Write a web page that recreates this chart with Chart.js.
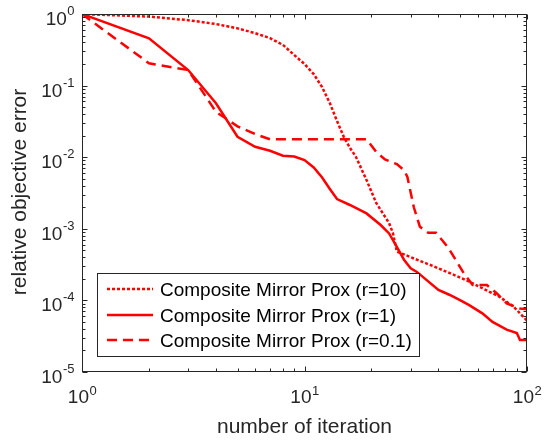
<!DOCTYPE html>
<html>
<head>
<meta charset="utf-8">
<script src="https://cdn.jsdelivr.net/npm/chart.js@4.4.1/dist/chart.umd.min.js"></script>
<style>
  body { margin: 0; background: #fff; }
  #wrap { width: 546px; height: 442px; }
</style>
</head>
<body>
<div id="wrap"><canvas id="myChart" width="546" height="442"></canvas></div>
<script>
// values (iteration -> relative objective error)
const itR10  = [1,2,3,4,5,6,7,8,9,10,11,12,13,14,15,16,17,19,21,24,25,26,28,32,38,45,53,63,75,87,100];
const errR10 = [1,0.92,0.82,0.725,0.63,0.54,0.46,0.37,0.267,0.2,0.145,0.095,0.057,0.032,0.0194,0.0135,0.0102,0.0048,0.0023,0.0012,0.00086,0.00048,0.00044,0.00037,0.0003,0.00024,0.000193,0.000148,0.000113,0.000082,0.000052];

const itR1  = [1,2,3,4,5,6,7,8,9,10,11,12,13,14,16,19,22,24,26,28,30,32,40,45,50,55,63,70,81,90,93,100];
const errR1 = [1,0.457,0.165,0.0566,0.0193,0.014,0.0123,0.0105,0.0102,0.0091,0.0072,0.0052,0.0036,0.0026,0.00215,0.00164,0.00113,0.00086,0.00056,0.00037,0.00028,0.00025,0.00014,0.000119,0.000101,0.000086,0.000066,0.00005,0.000039,0.000035,0.000028,0.000028];

const itR01  = [1,2,3,4,5,6,7,19,21,23,26,28,29,31,33,36,39,44,52,57,66,73,81,93,100];
const errR01 = [1,0.205,0.165,0.043,0.027,0.021,0.0178,0.0178,0.0119,0.0093,0.008,0.0066,0.0053,0.002,0.00107,0.00088,0.00088,0.00056,0.00024,0.000164,0.000164,0.000126,0.000091,0.000077,0.000075];

const labels = ["Composite Mirror Prox (r=10)", "Composite Mirror Prox (r=1)", "Composite Mirror Prox (r=0.1)"];
const xTicks = [0, 1, 2];            // exponents of 10
const yTicks = [0, -1, -2, -3, -4, -5];

const FONT = '"Liberation Sans", Arial, sans-serif';
const AX = '#262626';

function pts(xs, ys) { return xs.map((v, i) => ({x: v, y: ys[i]})); }

// draws "10" with a superscript exponent
function powLabel(ctx, e, x, y, align) {
  const ex = String(e);
  ctx.font = '19px ' + FONT;
  const wb = ctx.measureText('10').width;
  ctx.font = '13px ' + FONT;
  const we = ctx.measureText(ex).width;
  let left;
  if (align === 'center') left = x - (wb + we) / 2;
  else left = x - wb - we;
  ctx.textAlign = 'left';
  ctx.textBaseline = 'alphabetic';
  ctx.fillStyle = AX;
  ctx.font = '19px ' + FONT;
  ctx.fillText('10', left, y);
  ctx.font = '13px ' + FONT;
  ctx.fillText(ex, left + wb + 0.5, y - (align === 'center' ? 8 : 10));
}

const matlabAxes = {
  id: 'matlabAxes',
  afterDatasetsDraw(chart) {
    const ctx = chart.ctx;
    const a = chart.chartArea;
    const sx = chart.scales.x, sy = chart.scales.y;
    ctx.save();
    ctx.strokeStyle = AX;
    ctx.lineWidth = 1;
    const L = Math.round(a.left) + 0.5, R = Math.round(a.right) - 0.5;
    const T = Math.round(a.top) + 0.5, B = Math.round(a.bottom) - 0.5;
    ctx.strokeRect(L, T, R - L, B - T);

    ctx.beginPath();
    // x ticks
    xTicks.forEach(e => {
      const p = Math.round(sx.getPixelForValue(Math.pow(10, e))) + 0.5;
      ctx.moveTo(p, B); ctx.lineTo(p, B - 5);
      ctx.moveTo(p, T); ctx.lineTo(p, T + 5);
      if (e < 2) for (let m = 2; m <= 9; m++) {
        const q = Math.round(sx.getPixelForValue(m * Math.pow(10, e))) + 0.5;
        ctx.moveTo(q, B); ctx.lineTo(q, B - 3);
        ctx.moveTo(q, T); ctx.lineTo(q, T + 3);
      }
    });
    // y ticks
    yTicks.forEach(e => {
      const p = Math.round(sy.getPixelForValue(Math.pow(10, e))) + 0.5;
      ctx.moveTo(L, p); ctx.lineTo(L + 5, p);
      ctx.moveTo(R, p); ctx.lineTo(R - 5, p);
      if (e > -5) for (let m = 2; m <= 9; m++) {
        const q = Math.round(sy.getPixelForValue(m * Math.pow(10, e - 1))) + 0.5;
        ctx.moveTo(L, q); ctx.lineTo(L + 3, q);
        ctx.moveTo(R, q); ctx.lineTo(R - 3, q);
      }
    });
    ctx.stroke();

    // tick labels
    xTicks.forEach(e => powLabel(ctx, e, sx.getPixelForValue(Math.pow(10, e)), a.bottom + 31, 'center'));
    yTicks.forEach(e => powLabel(ctx, e, a.left - 8, sy.getPixelForValue(Math.pow(10, e)) + 11, 'right'));

    // axis titles
    ctx.fillStyle = AX;
    ctx.font = '21px ' + FONT;
    ctx.textAlign = 'center';
    ctx.textBaseline = 'alphabetic';
    ctx.fillText('number of iteration', (a.left + a.right) / 2, 433);
    ctx.save();
    ctx.translate(26, (a.top + a.bottom) / 2 - 1);
    ctx.rotate(-Math.PI / 2);
    ctx.fillText('relative objective error', 0, 0);
    ctx.restore();

    // legend box
    const lx = 97.5, ly = 273.5, lw = 322, lh = 83;
    ctx.fillStyle = '#fff';
    ctx.fillRect(lx, ly, lw, lh);
    ctx.strokeStyle = AX;
    ctx.lineWidth = 1;
    ctx.strokeRect(lx, ly, lw, lh);
    const rows = [289, 315, 340];
    chart.data.datasets.forEach((ds, i) => {
      ctx.strokeStyle = ds.borderColor;
      ctx.lineWidth = ds.borderWidth;
      ctx.setLineDash(ds.borderDash || []);
      ctx.beginPath();
      ctx.moveTo(107, rows[i]);
      ctx.lineTo(153, rows[i]);
      ctx.stroke();
      ctx.setLineDash([]);
      ctx.fillStyle = '#000';
      ctx.font = '19px ' + FONT;
      ctx.textAlign = 'left';
      ctx.textBaseline = 'alphabetic';
      ctx.fillText(ds.label, 160, rows[i] + 6.5);
    });
    ctx.restore();
  }
};

new Chart("myChart", {
  type: "line",
  data: {
    datasets: [{
      label: labels[0],
      data: pts(itR10, errR10),
      borderColor: "#ff0000",
      borderWidth: 2.5,
      borderDash: [3, 2],
      pointRadius: 0,
      fill: false
    }, {
      label: labels[1],
      data: pts(itR1, errR1),
      borderColor: "#ff0000",
      borderWidth: 2.5,
      pointRadius: 0,
      fill: false
    }, {
      label: labels[2],
      data: pts(itR01, errR01),
      borderColor: "#ff0000",
      borderWidth: 2.5,
      borderDash: [10, 6],
      pointRadius: 0,
      fill: false
    }]
  },
  options: {
    responsive: false,
    animation: false,
    layout: {padding: {left: 82, top: 14, right: 19, bottom: 70}},
    scales: {
      x: {
        type: "logarithmic", min: 1, max: 100,
        ticks: {display: false}, grid: {display: false}, border: {display: false},
        afterFit: s => { s.height = 0; }
      },
      y: {
        type: "logarithmic", min: 1e-5, max: 1,
        ticks: {display: false}, grid: {display: false}, border: {display: false},
        afterFit: s => { s.width = 0; }
      }
    },
    plugins: {
      legend: {display: false},
      tooltip: {enabled: false}
    }
  },
  plugins: [matlabAxes]
});
</script>
</body>
</html>
